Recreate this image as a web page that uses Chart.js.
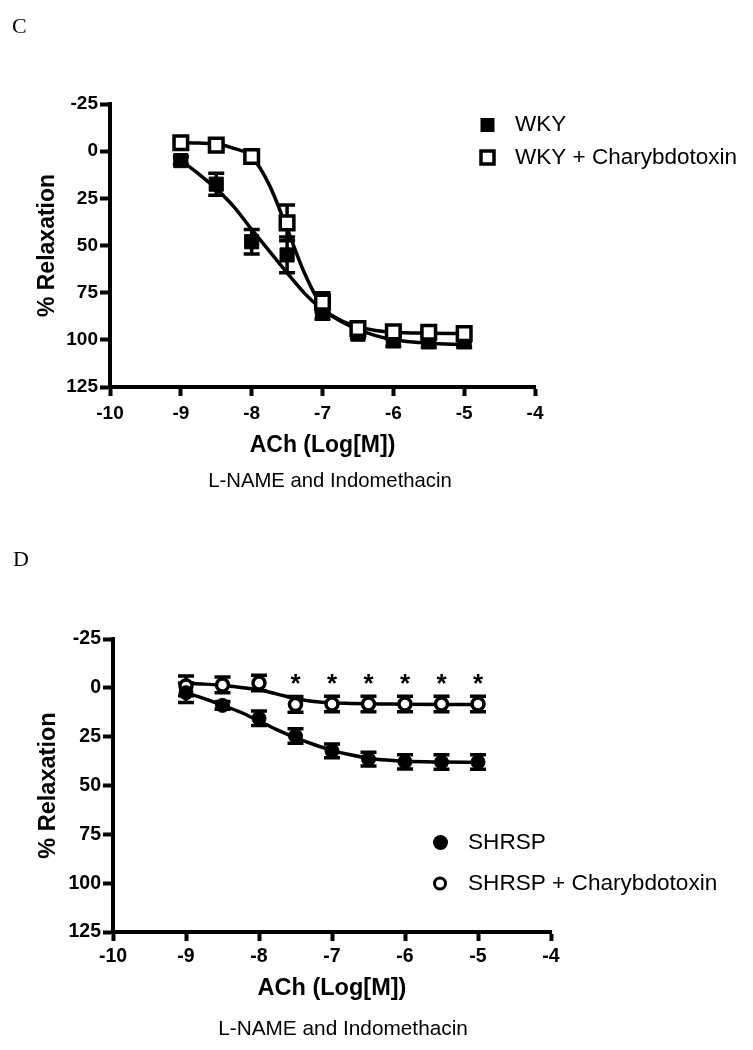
<!DOCTYPE html>
<html>
<head>
<meta charset="utf-8">
<script src="https://cdn.jsdelivr.net/npm/chart.js@4.4.0/dist/chart.umd.min.js"></script>
<style>
html,body{margin:0;padding:0;background:#fff;}
#wrap{position:relative;width:753px;height:1050px;overflow:hidden;background:#fff;}
canvas{position:absolute;left:0;display:block;}
</style>
</head>
<body>
<div id="wrap">
  <canvas id="chartC" width="753" height="525" style="top:0px"></canvas>
  <canvas id="chartD" width="753" height="525" style="top:525px"></canvas>
</div>
<script>
// ---------------- Panel C data ----------------
const doseC = [-9, -8.5, -8, -7.5, -7, -6.5, -6, -5.5, -5];
const wkyMean = [5, 17.5, 48, 55, 86, 97, 100.5, 101, 101];
const wkyErr = [2, 5.8, 6.5, 9.5, 3, 2, 3, 3, 3];
const wkyChtxMean = [-4.5, -3.2, 2.8, 38, 80, 94, 95.8, 96, 96.7];
const wkyChtxErr = [1.5, 1.5, 2, 9.5, 5, 1.5, 1.5, 1.5, 1.5];
// fitted curves
const curveXC = [-9, -8.75, -8.5, -8.25, -8, -7.75, -7.5, -7.25, -7, -6.75, -6.5, -6.25, -6, -5.5, -5];
const wkyFit = [5, 12, 20, 29.5, 41.5, 53, 64.5, 75.5, 84, 90, 94.5, 97.8, 100, 101.8, 102.5];
const wkyChtxFit = [-4.5, -4.3, -3.8, -1.5, 3, 18, 41, 65, 82.6, 89.5, 93, 95, 96, 96.5, 96.7];

// ---------------- Panel D data ----------------
const doseD = [-9, -8.5, -8, -7.5, -7, -6.5, -6, -5.5, -5];
const shrspMean = [2.5, 9, 15.6, 24.7, 32.3, 36.5, 37.9, 38, 38];
const shrspErr = [5, 2, 3.7, 3.7, 3.5, 3.5, 3.7, 3.7, 3.7];
const shrspChtxMean = [-1, -1.5, -2.5, 8.5, 8.3, 8.3, 8.3, 8.3, 8.3];
const shrspChtxErr = [5, 4, 4, 4, 4, 4, 4, 4, 4];
const curveXD = [-9, -8.75, -8.5, -8.25, -8, -7.75, -7.5, -7.25, -7, -6.75, -6.5, -6.25, -6, -5.5, -5];
const shrspFit = [2.5, 5.5, 9, 12.5, 17, 21.5, 25.5, 29, 32, 34.3, 36, 37, 37.6, 38, 38.2];
const shrspChtxFit = [-2.3, -1.9, -1.2, -0.2, 1, 3.2, 5.5, 7, 7.7, 8, 8.2, 8.3, 8.4, 8.5, 8.5];
const starX = [-7.5, -7, -6.5, -6, -5.5, -5];
const starY = [-4.6, -4.6, -4.6, -4.6, -4.6, -4.6];

// ---------------- tick / label text ----------------
const xTicks = [-10, -9, -8, -7, -6, -5, -4];
const yTicks = [-25, 0, 25, 50, 75, 100, 125];
const yTitle = '% Relaxation';
const xTitle = 'ACh (Log[M])';
const subTitle = 'L-NAME and Indomethacin';
const legendC = ['WKY', 'WKY + Charybdotoxin'];
const legendD = ['SHRSP', 'SHRSP + Charybdotoxin'];

const SANS = '"Liberation Sans", Arial, Helvetica, sans-serif';
const SERIF = '"Liberation Serif", "Times New Roman", serif';

function pts(xs, ys) { return xs.map((x, i) => ({x: x, y: ys[i]})); }

const errorBarPlugin = {
  id: 'errorBars',
  beforeDatasetsDraw(chart, args, opts) {
    const ctx = chart.ctx, xs = chart.scales.x, ys = chart.scales.y;
    ctx.save();
    ctx.strokeStyle = '#000';
    ctx.lineWidth = opts.lineWidth;
    ctx.lineCap = 'butt';
    (opts.series || []).forEach(s => {
      s.x.forEach((xv, i) => {
        const px = xs.getPixelForValue(xv);
        const top = ys.getPixelForValue(s.y[i] - s.err[i]);
        const bot = ys.getPixelForValue(s.y[i] + s.err[i]);
        ctx.beginPath();
        ctx.moveTo(px, top); ctx.lineTo(px, bot);
        ctx.moveTo(px - opts.cap, top); ctx.lineTo(px + opts.cap, top);
        ctx.moveTo(px - opts.cap, bot); ctx.lineTo(px + opts.cap, bot);
        ctx.stroke();
      });
    });
    ctx.restore();
  }
};

const extrasPlugin = {
  id: 'extras',
  afterDraw(chart, args, o) {
    const ctx = chart.ctx, xs = chart.scales.x, ys = chart.scales.y;
    ctx.save();
    // panel letter
    ctx.fillStyle = '#000';
    ctx.font = o.letterFont;
    ctx.textAlign = 'left';
    ctx.textBaseline = 'alphabetic';
    ctx.fillText(o.letter, o.letterX, o.letterY);
    // subtitle
    ctx.font = o.subFont;
    ctx.textAlign = 'center';
    ctx.textBaseline = 'middle';
    ctx.fillText(subTitle, o.subX, o.subY);
    // legend
    ctx.font = o.legFont;
    ctx.textAlign = 'left';
    o.legend.forEach(item => {
      ctx.fillStyle = '#000';
      ctx.strokeStyle = '#000';
      if (item.shape === 'rect') {
        const h = item.size / 2;
        if (item.filled) {
          ctx.fillRect(item.mx - h, item.y - h, item.size, item.size);
        } else {
          ctx.lineWidth = item.lw;
          ctx.fillStyle = '#fff';
          ctx.fillRect(item.mx - h, item.y - h, item.size, item.size);
          ctx.strokeRect(item.mx - h, item.y - h, item.size, item.size);
        }
      } else {
        ctx.beginPath();
        ctx.arc(item.mx, item.y, item.size / 2, 0, Math.PI * 2);
        if (item.filled) { ctx.fill(); }
        else { ctx.lineWidth = item.lw; ctx.fillStyle = '#fff'; ctx.fill(); ctx.stroke(); }
      }
      ctx.fillStyle = '#000';
      ctx.textBaseline = 'middle';
      ctx.fillText(item.text, o.legTextX, item.y);
    });
    // significance stars
    if (o.stars) {
      ctx.font = o.starFont;
      ctx.textAlign = 'center';
      ctx.textBaseline = 'alphabetic';
      const m = ctx.measureText('*');
      const asc = m.actualBoundingBoxAscent, desc = m.actualBoundingBoxDescent;
      o.stars.x.forEach((xv, i) => {
        const px = xs.getPixelForValue(xv);
        const py = ys.getPixelForValue(o.stars.y[i]);
        ctx.fillText('*', px, py + (asc - desc) / 2);
      });
    }
    ctx.restore();
  }
};

function makeChart(id, c) {
  const tickFont = {family: SANS, size: c.tickSize, weight: 'bold'};
  return new Chart(document.getElementById(id), {
    data: {datasets: c.datasets},
    options: {
      responsive: false,
      animation: false,
      events: [],
      layout: {padding: c.padding},
      plugins: {
        legend: {display: false},
        tooltip: {enabled: false},
        title: {display: false},
        errorBars: c.errorBars,
        extras: c.extras
      },
      scales: {
        x: {
          type: 'linear',
          position: 'bottom',
          min: xTicks[0], max: xTicks[xTicks.length - 1],
          afterBuildTicks: s => { s.ticks = xTicks.map(v => ({value: v})); },
          afterFit: s => { s.height = c.xHeight; },
          ticks: {color: '#000', font: tickFont, padding: c.xTickPad, maxRotation: 0, autoSkip: false},
          grid: {display: true, drawOnChartArea: false, drawTicks: true, tickLength: 9, tickWidth: 4, tickColor: '#000'},
          border: {display: true, width: 4, color: '#000'},
          title: {display: true, text: xTitle, color: '#000', font: {family: SANS, size: c.titleSize, weight: 'bold'}, padding: {top: 0, bottom: 0}}
        },
        y: {
          type: 'linear',
          position: 'left',
          reverse: true,
          min: yTicks[0], max: yTicks[yTicks.length - 1],
          afterBuildTicks: s => { s.ticks = yTicks.map(v => ({value: v})); },
          afterFit: s => { s.width = c.yWidth; },
          ticks: {color: '#000', font: tickFont, padding: 2},
          grid: {display: true, drawOnChartArea: false, drawTicks: true, tickLength: 10, tickWidth: 4, tickColor: '#000'},
          border: {display: true, width: 4, color: '#000'},
          title: {display: true, text: yTitle, color: '#000', font: {family: SANS, size: c.titleSize, weight: 'bold'}, padding: {top: 34, bottom: 0}}
        }
      }
    },
    plugins: [errorBarPlugin, extrasPlugin]
  });
}

// ---------------- Chart C ----------------
makeChart('chartC', {
  padding: {top: 104, left: 0, right: 218, bottom: 66},
  xHeight: 72, yWidth: 110, tickSize: 19, titleSize: 23, xTickPad: 6,
  datasets: [
    {type: 'scatter', label: legendC[1], data: pts(doseC, wkyChtxMean), showLine: false,
     pointStyle: 'rect', pointRadius: 9.6, pointBackgroundColor: '#fff', pointBorderColor: '#000', pointBorderWidth: 3.5, order: 0},
    {type: 'scatter', label: legendC[0], data: pts(doseC, wkyMean), showLine: false,
     pointStyle: 'rect', pointRadius: 10, pointBackgroundColor: '#000', pointBorderColor: '#000', pointBorderWidth: 1, order: 1},
    {type: 'line', label: 'fit ' + legendC[0], data: pts(curveXC, wkyFit), borderColor: '#000', borderWidth: 3.5,
     pointRadius: 0, cubicInterpolationMode: 'monotone', fill: false, order: 2},
    {type: 'line', label: 'fit ' + legendC[1], data: pts(curveXC, wkyChtxFit), borderColor: '#000', borderWidth: 3.5,
     pointRadius: 0, cubicInterpolationMode: 'monotone', fill: false, order: 3}
  ],
  errorBars: {lineWidth: 3.5, cap: 8, series: [
    {x: doseC, y: wkyMean, err: wkyErr},
    {x: doseC, y: wkyChtxMean, err: wkyChtxErr}
  ]},
  extras: {
    letter: 'C', letterFont: '22px ' + SERIF, letterX: 12, letterY: 32.5,
    subFont: '20.3px ' + SANS, subX: 330, subY: 481,
    legFont: '22.5px ' + SANS, legTextX: 515,
    legend: [
      {shape: 'rect', filled: true, mx: 487.5, y: 125, size: 14, text: legendC[0]},
      {shape: 'rect', filled: false, mx: 487.5, y: 157.5, size: 13, lw: 3.5, text: legendC[1]}
    ]
  }
});

// ---------------- Chart D ----------------
makeChart('chartD', {
  padding: {top: 114, left: 0, right: 202, bottom: 47},
  xHeight: 71, yWidth: 113, tickSize: 19.5, titleSize: 23.5, xTickPad: 4,
  datasets: [
    {type: 'scatter', label: legendD[0], data: pts(doseD, shrspMean), showLine: false,
     pointStyle: 'circle', pointRadius: 7, pointBackgroundColor: '#000', pointBorderColor: '#000', pointBorderWidth: 1, order: 0},
    {type: 'scatter', label: legendD[1], data: pts(doseD, shrspChtxMean), showLine: false,
     pointStyle: 'circle', pointRadius: 6, pointBackgroundColor: '#fff', pointBorderColor: '#000', pointBorderWidth: 3.5, order: 1},
    {type: 'line', label: 'fit ' + legendD[0], data: pts(curveXD, shrspFit), borderColor: '#000', borderWidth: 3.5,
     pointRadius: 0, cubicInterpolationMode: 'monotone', fill: false, order: 2},
    {type: 'line', label: 'fit ' + legendD[1], data: pts(curveXD, shrspChtxFit), borderColor: '#000', borderWidth: 3.5,
     pointRadius: 0, cubicInterpolationMode: 'monotone', fill: false, order: 3}
  ],
  errorBars: {lineWidth: 3.5, cap: 8, series: [
    {x: doseD, y: shrspMean, err: shrspErr},
    {x: doseD, y: shrspChtxMean, err: shrspChtxErr}
  ]},
  extras: {
    letter: 'D', letterFont: '22px ' + SERIF, letterX: 13, letterY: 41,
    subFont: '20.8px ' + SANS, subX: 343, subY: 504,
    legFont: '22.6px ' + SANS, legTextX: 468,
    legend: [
      {shape: 'circle', filled: true, mx: 440.5, y: 317.5, size: 15, text: legendD[0]},
      {shape: 'circle', filled: false, mx: 440, y: 358.5, size: 11, lw: 3, text: legendD[1]}
    ],
    starFont: 'bold 26px ' + SANS,
    stars: {x: starX, y: starY}
  }
});
</script>
</body>
</html>
